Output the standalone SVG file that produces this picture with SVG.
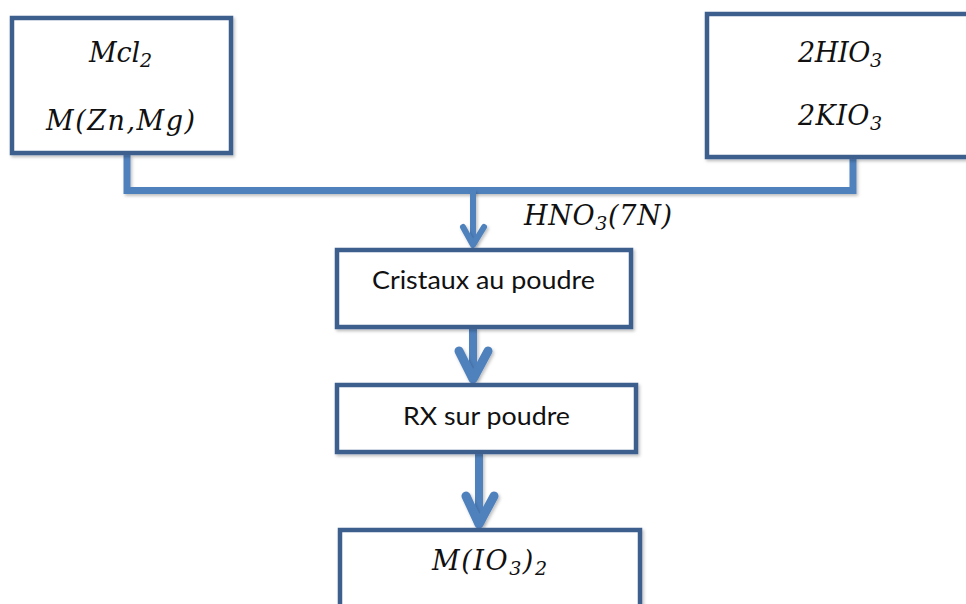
<svg xmlns="http://www.w3.org/2000/svg" width="966" height="604" viewBox="0 0 966 604">
<defs>
<filter id="sh" filterUnits="userSpaceOnUse" x="0" y="0" width="966" height="604">
<feDropShadow dx="1.5" dy="2" stdDeviation="1.5" flood-color="#000" flood-opacity="0.25"/>
</filter>
</defs>
<style>
.box{fill:#fff;stroke:#3c5f8e;stroke-width:4.5;filter:url(#sh)}
.conn{fill:none;stroke:#4f81bd;stroke-linejoin:miter;filter:url(#sh)}
.head{fill:none;stroke:#4f81bd;stroke-linecap:round;stroke-linejoin:round;filter:url(#sh)}
.m{font-family:"DejaVu Serif","Liberation Serif",serif;font-style:italic;font-size:27px;fill:#111}
.sub{font-size:19px}
.t{font-family:Lato,"Open Sans","Liberation Sans",sans-serif;font-size:25px;fill:#111}
</style>
<rect width="966" height="604" fill="#fff"/>
<g id="connectors">
<polyline class="conn" stroke-width="7" points="127,155 127,190.5 853,190.5 853,158"/>
<line class="conn" stroke-width="6" x1="473" y1="190" x2="473" y2="244"/>
<polyline class="head" stroke-width="6" points="463,227 473,245 484,227"/>
<line class="conn" stroke-width="8" x1="473" y1="328" x2="473" y2="378"/>
<polyline class="head" stroke-width="9" points="459,351 473,379 488,351"/>
<line class="conn" stroke-width="8" x1="479" y1="453" x2="479" y2="523"/>
<polyline class="head" stroke-width="9" points="466,496 479,524 494,496"/>
</g>
<g id="n1">
<rect class="box" x="12" y="18" width="219" height="135"/>
<text class="m" x="89" y="62" textLength="63" lengthAdjust="spacing">Mcl<tspan class="sub" dy="5">2</tspan></text>
<text class="m" x="46" y="130" textLength="149" lengthAdjust="spacing">M(Zn,Mg)</text>
</g>
<g id="n2">
<rect class="box" x="707" y="14" width="265" height="143"/>
<text class="m" x="798" y="62" textLength="84" lengthAdjust="spacing">2HIO<tspan class="sub" dy="5">3</tspan></text>
<text class="m" x="798" y="125" textLength="84" lengthAdjust="spacing">2KIO<tspan class="sub" dy="5">3</tspan></text>
</g>
<g id="lbl">
<text class="m" x="524" y="225" textLength="148" lengthAdjust="spacing">HNO<tspan class="sub" dy="5">3</tspan><tspan dy="-5">(7N)</tspan></text>
</g>
<g id="n3">
<rect class="box" x="337" y="250" width="294" height="77"/>
<text class="t" x="372" y="289" textLength="223" lengthAdjust="spacingAndGlyphs">Cristaux au poudre</text>
</g>
<g id="n4">
<rect class="box" x="337" y="385" width="299" height="67"/>
<text class="t" x="403" y="425" textLength="167" lengthAdjust="spacingAndGlyphs">RX sur poudre</text>
</g>
<g id="n5">
<rect class="box" x="340" y="530" width="300" height="90"/>
<text class="m" x="432" y="570" textLength="115" lengthAdjust="spacing">M(IO<tspan class="sub" dy="5">3</tspan><tspan dy="-5">)</tspan><tspan class="sub" dy="5">2</tspan></text>
</g>
</svg>
